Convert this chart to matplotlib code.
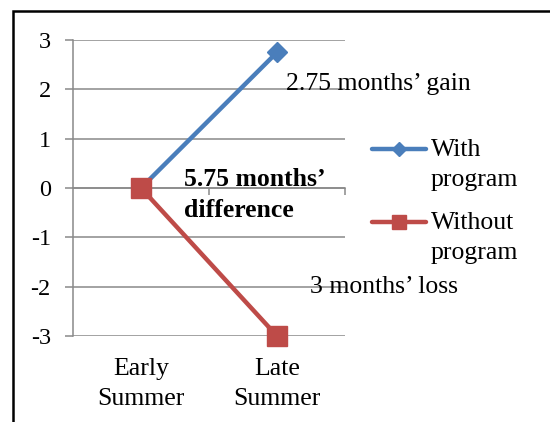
import matplotlib
matplotlib.use("Agg")
import matplotlib.pyplot as plt
from matplotlib.patches import Rectangle
from matplotlib.legend_handler import HandlerLine2D

categories = ["Early\nSummer", "Late\nSummer"]
with_program = [0, 2.75]
without_program = [0, -3]
series_labels = ["With\nprogram", "Without\nprogram"]
yticks = [-3, -2, -1, 0, 1, 2, 3]
ytick_labels = ["-3", "-2", "-1", "0", "1", "2", "3"]
notes = ["2.75 months\u2019 gain", "5.75 months\u2019\ndifference", "3 months\u2019 loss"]

BLUE = "#4A7EBB"
RED = "#BE4B48"
GRID = "#898989"
FONT = ["Liberation Serif", "DejaVu Serif"]
FS = 18.5
LS = 1.45

plt.rcParams["font.family"] = FONT
plt.rcParams["axes.unicode_minus"] = False

W, H = 550, 422
fig = plt.figure(figsize=(W / 100, H / 100), dpi=100)
ax = fig.add_axes([73 / W, (H - 336) / H, (345 - 73) / W, (336 - 40) / H])

x = list(range(len(categories)))
ax.set_xlim(-0.5, len(categories) - 0.5)
ax.set_ylim(-3, 3)

for yv in yticks:
    ax.axhline(yv, color=GRID, lw=1.1, zorder=1)

ax.plot(x, with_program, color=BLUE, lw=3.2, marker="D", ms=10.5,
        label=series_labels[0], zorder=3, clip_on=False, solid_capstyle="round")
ax.plot(x, without_program, color=RED, lw=3.2, marker="s", ms=14.5,
        label=series_labels[1], zorder=3, clip_on=False, solid_capstyle="round")

for s in ["top", "right"]:
    ax.spines[s].set_visible(False)
ax.spines["left"].set_color(GRID)
ax.spines["left"].set_linewidth(1.1)
ax.spines["bottom"].set_position(("data", 0))
ax.spines["bottom"].set_color(GRID)
ax.spines["bottom"].set_linewidth(1.1)

ax.set_yticks(yticks)
ax.set_yticklabels(ytick_labels)
ax.tick_params(axis="y", direction="out", length=6, width=1.1, color=GRID,
               pad=10, labelsize=17.5, labelcolor="black")
ax.set_xticks([i + 0.5 for i in x])
ax.set_xticklabels([])
ax.tick_params(axis="x", direction="out", length=5, width=1.1, color=GRID)

for i, c in enumerate(categories):
    ax.annotate(c, xy=(i, -3), xytext=(0, -15.5), textcoords="offset points",
                ha="center", va="top", fontsize=FS, linespacing=1.5)

ax.text(1.066, 2.1, notes[0], fontsize=FS, ha="left", va="center")
ax.text(0.316, -0.14, notes[1], fontsize=FS, fontweight="bold",
        ha="left", va="center", linespacing=LS)
ax.text(1.243, -2.01, notes[2], fontsize=FS, ha="left", va="center")

# half of the line pitch (points) so the handle sits on the first text line
SHIFT = 0.5 * 31 * 72 / 100


class FirstLineHandler(HandlerLine2D):
    def create_artists(self, legend, orig_handle, xdescent, ydescent,
                       width, height, fontsize, trans):
        return super().create_artists(legend, orig_handle, xdescent,
                                      ydescent - 2 * SHIFT, width, height,
                                      fontsize, trans)


h1, l1 = ax.get_legend_handles_labels()
leg = fig.legend(h1, l1, loc="upper left", bbox_to_anchor=(372 / W, 1 - 139 / H),
                 frameon=False, fontsize=FS, handlelength=2.1,
                 handletextpad=0.2, labelspacing=0.83, borderpad=0,
                 borderaxespad=0, markerscale=0.72,
                 handler_map={h: FirstLineHandler() for h in h1})
for t in leg.get_texts():
    t.set_linespacing(LS)

fig.patches.append(Rectangle((12.5 / W, -0.2), 1.2, 1.2 - 11 / H,
                             transform=fig.transFigure, fill=False,
                             ec="black", lw=1.8))

fig.savefig("out.png", dpi=100)
